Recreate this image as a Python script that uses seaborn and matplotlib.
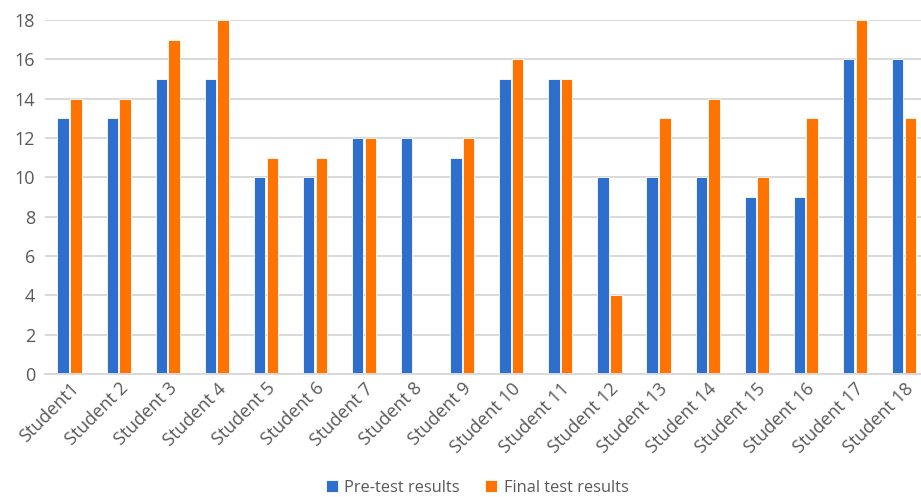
import numpy as np
import pandas as pd
import matplotlib
matplotlib.use("Agg")
import matplotlib.pyplot as plt
import seaborn as sns

students = ["Student1", "Student 2", "Student 3", "Student 4", "Student 5", "Student 6",
            "Student 7", "Student 8", "Student 9", "Student 10", "Student 11", "Student 12",
            "Student 13", "Student 14", "Student 15", "Student 16", "Student 17", "Student 18"]
pre_test = [13, 13, 15, 15, 10, 10, 12, 12, 11, 15, 15, 10, 10, 10, 9, 9, 16, 16]
final_test = [14, 14, 17, 18, 11, 11, 12, np.nan, 12, 16, 15, 4, 13, 14, 10, 13, 18, 13]
series_names = ["Pre-test results", "Final test results"]
colors = ["#2E6ECC", "#FF7400"]

df = pd.DataFrame({
    "student": students * 2,
    "score": pre_test + final_test,
    "series": [series_names[0]] * len(students) + [series_names[1]] * len(students),
})

sns.set_theme(style="white")
plt.rcParams["font.family"] = ["Open Sans", "DejaVu Sans"]

fig = plt.figure(figsize=(9.21, 4.97), dpi=100)
ax = fig.add_axes([45 / 921, 123 / 497, 883.5 / 921, 354 / 497])

sns.barplot(data=df, x="student", y="score", hue="series", hue_order=series_names,
            order=students, palette=colors, saturation=1, width=0.52, gap=0.1,
            edgecolor="#FFFFFF", linewidth=0.6, ax=ax, legend=True, errorbar=None)

ax.set_xlim(-0.5, len(students) - 0.5)
ax.set_ylim(0, 18)
ax.set_yticks(range(0, 19, 2))
ax.yaxis.grid(True, color="#D9D9D9", linewidth=1.4)
ax.set_axisbelow(True)
for side in ["top", "right", "left"]:
    ax.spines[side].set_visible(False)
ax.spines["bottom"].set_color("#D9D9D9")
ax.spines["bottom"].set_linewidth(1.4)
ax.tick_params(axis="both", length=0, colors="#595959", labelsize=13)
ax.tick_params(axis="y", pad=7)
ax.tick_params(axis="x", pad=4)
plt.setp(ax.get_xticklabels(), rotation=45, ha="right", rotation_mode="anchor")
ax.set_xlabel("")
ax.set_ylabel("")

handles, labels = ax.get_legend_handles_labels()
ax.legend_.remove()
fig.legend(handles, labels, loc="center", bbox_to_anchor=(477 / 921, 1 - 488 / 497),
           ncol=2, frameon=False, fontsize=11.8, handlelength=0.75, handleheight=0.75,
           handletextpad=0.4, columnspacing=1.5, labelcolor="#595959")

fig.savefig("out.png", dpi=100, facecolor="white")
